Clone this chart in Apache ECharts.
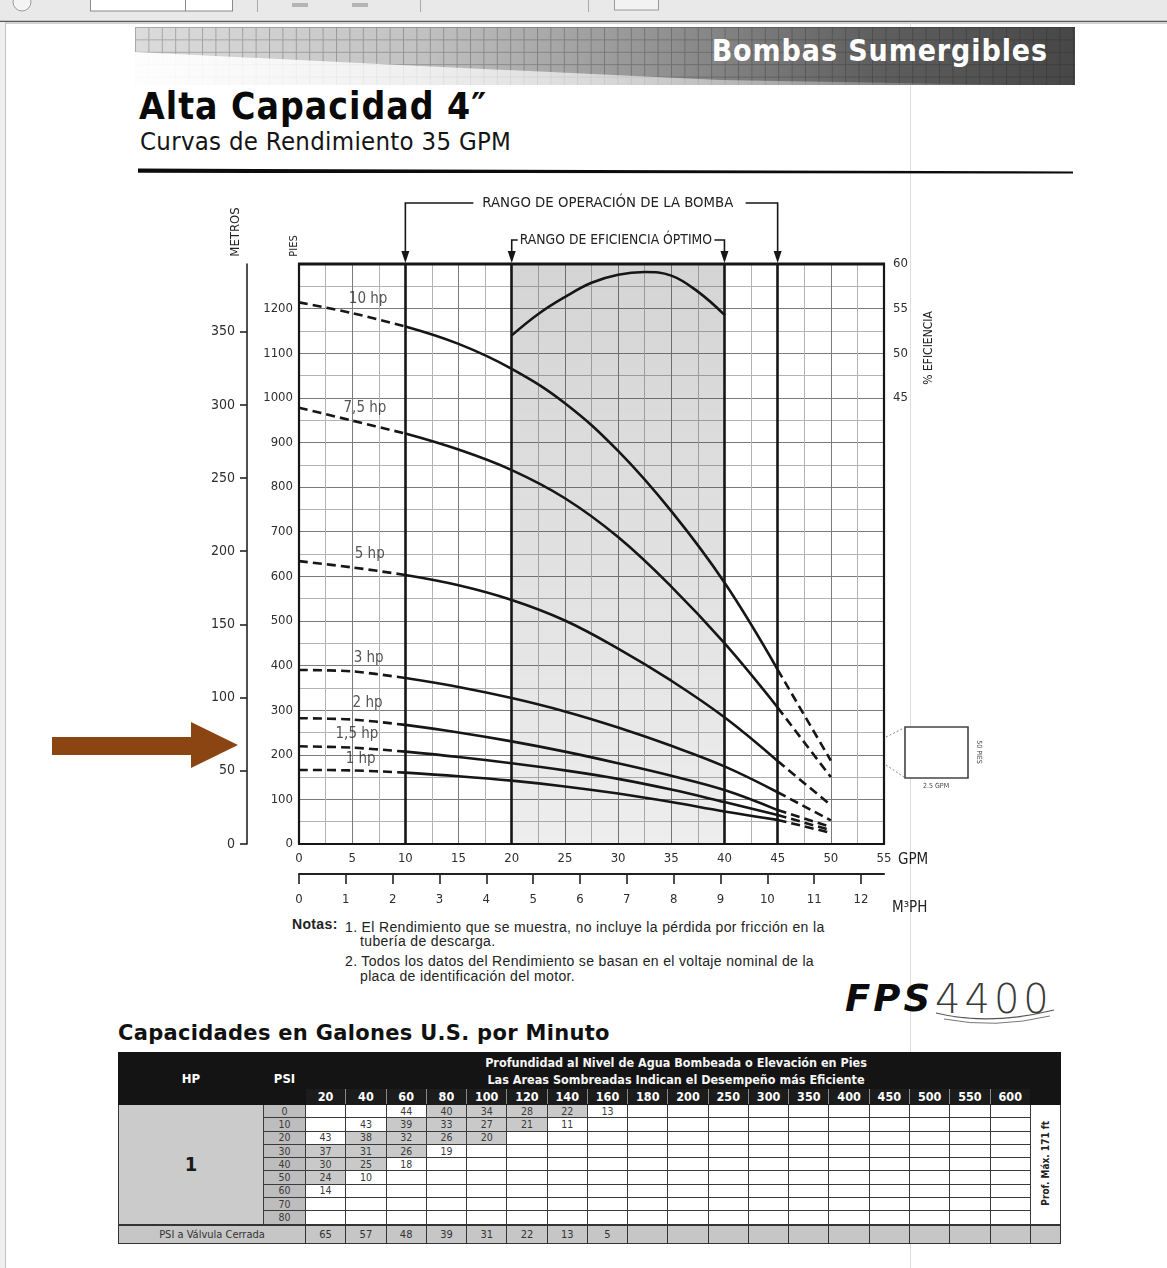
<!DOCTYPE html>
<html><head><meta charset="utf-8">
<script src="https://cdn.jsdelivr.net/npm/echarts@6/dist/echarts.min.js"></script>
<style>
html,body{margin:0;padding:0;background:#fff;}
#page{position:relative;width:1167px;height:1268px;overflow:hidden;background:#fff;font-family:'DejaVu Sans Condensed','Liberation Sans Narrow',sans-serif;color:#111;}
#deco{position:absolute;left:0;top:0;}
#chart{position:absolute;left:0;top:0;width:1167px;height:1268px;}
.t{position:absolute;white-space:nowrap;}
#banner{right:119px;top:35.6px;font-size:30px;line-height:30px;font-weight:bold;color:#fff;letter-spacing:0.9px;}
#title{left:139px;top:87.7px;font-size:37px;line-height:37px;font-weight:bold;color:#0a0a0a;letter-spacing:1px;}
#subtitle{left:140px;top:128.6px;font-size:25.5px;line-height:25.5px;color:#151515;letter-spacing:0.3px;}
.note{font-family:'Liberation Sans',Arial,sans-serif;font-size:14px;line-height:14px;color:#222;letter-spacing:0.35px;}
#ttitle{left:118px;top:1023.2px;font-family:'DejaVu Sans',sans-serif;font-size:21px;line-height:21px;font-weight:bold;letter-spacing:0.3px;color:#111;}
#fps{left:845px;top:979.7px;font-family:'DejaVu Sans',sans-serif;font-size:37px;line-height:37px;font-weight:bold;font-style:italic;letter-spacing:3px;color:#0c0c0c;}
#n4400{left:935px;top:979.2px;font-family:'DejaVu Sans',sans-serif;font-size:40px;line-height:40px;font-weight:200;letter-spacing:4px;color:#3a3a3a;}
#tbl{position:absolute;left:118px;top:1052px;border-collapse:collapse;table-layout:fixed;width:942px;font-family:'DejaVu Sans Condensed','Liberation Sans Narrow',sans-serif;}
#tbl th,#tbl td{padding:0;text-align:center;vertical-align:middle;overflow:hidden;white-space:nowrap;}
#tbl .r1 th{height:35px;}
#tbl .hd{background:#141414;color:#fff;font-weight:bold;font-size:13px;border:1px solid #141414;}
#tbl .dep{background:#141414;color:#f4f4f4;font-weight:bold;font-size:12.5px;line-height:17px;padding-left:16px;border:1px solid #141414;}
#tbl .r2 th{height:15px;background:#1c1c1c;color:#fff;font-weight:bold;font-size:12.5px;border-left:1.5px solid #8a8a8a;border-right:1.5px solid #8a8a8a;border-top:1px solid #1c1c1c;border-bottom:1px solid #1c1c1c;}
#tbl .dr td{height:12.3px;font-size:10.5px;line-height:11px;color:#3a3a3a;border:1px solid #3a3a3a;border-top:1.5px solid #333;background:#fff;}
#tbl .dr td.hpc{background:#cbcbcb;font-size:20px;font-weight:bold;color:#1a1a1a;}
#tbl .dr td.psi{background:#bdbdbd;}
#tbl .dr td.sh{background:#c9c9c9;}
#tbl .dr td.pm{background:#fff;}
#tbl .pm span{writing-mode:vertical-rl;transform:rotate(180deg);font-size:10px;font-weight:bold;color:#222;display:inline-block;}
#tbl .cr td{height:17px;background:#c6c6c6;font-size:11px;color:#333;border:1px solid #333;border-top:2px solid #333;}
</style></head>
<body><div id="page">
<svg id="deco" width="1167" height="1268" xmlns="http://www.w3.org/2000/svg">
<defs>
<linearGradient id="band" x1="0" x2="1" y1="0" y2="0">
<stop offset="0" stop-color="#dcdcdc"/><stop offset="0.3" stop-color="#c2c2c2"/><stop offset="0.55" stop-color="#949494"/><stop offset="0.78" stop-color="#606060"/><stop offset="1" stop-color="#474747"/>
</linearGradient>
<linearGradient id="fadeL" x1="0" x2="1" y1="0" y2="0">
<stop offset="0" stop-color="#fff" stop-opacity="0.95"/><stop offset="0.5" stop-color="#fff" stop-opacity="0.6"/><stop offset="1" stop-color="#fff" stop-opacity="0"/>
</linearGradient>
<pattern id="gridp" width="13.4" height="12.4" patternUnits="userSpaceOnUse" x="135" y="27">
<path d="M0.5 0 V12.4 M0 0.5 H13.4" stroke="rgba(30,30,30,0.28)" stroke-width="1" fill="none"/>
</pattern>
</defs>
<rect x="0" y="0" width="1167" height="21" fill="#e9e9e9"/>
<circle cx="22" cy="2" r="9" fill="#f4f4f4" stroke="#9a9a9a"/>
<rect x="90.5" y="-1" width="142" height="12" fill="#fff" stroke="#8a8a8a"/>
<line x1="185.5" y1="0" x2="185.5" y2="11" stroke="#8a8a8a"/>
<line x1="257.5" y1="0" x2="257.5" y2="12" stroke="#aaa"/>
<rect x="292" y="3" width="16" height="4" fill="#b5b5b5"/>
<rect x="352" y="3" width="16" height="4" fill="#b5b5b5"/>
<line x1="420.5" y1="0" x2="420.5" y2="12" stroke="#aaa"/>
<line x1="588.5" y1="0" x2="588.5" y2="12" stroke="#aaa"/>
<rect x="614.5" y="-1" width="44" height="11" fill="#f2f2f2" stroke="#9a9a9a"/>
<line x1="0" y1="21.5" x2="1167" y2="21.5" stroke="#5a5a5a" stroke-width="1.5"/>
<line x1="0" y1="23.5" x2="1167" y2="23.5" stroke="#cfcfcf" stroke-width="1"/>
<rect x="0" y="22" width="5" height="1246" fill="#efefef"/>
<line x1="5.5" y1="22" x2="5.5" y2="1268" stroke="#c4c4c4"/>
<line x1="910.5" y1="22" x2="910.5" y2="1268" stroke="#dedede"/>
<rect x="135" y="27" width="940" height="58" fill="url(#band)"/>
<rect x="135" y="27" width="940" height="58" fill="url(#gridp)"/>
<polygon points="135,52 420,66 720,80 1075,86 135,86" fill="url(#fadeL)"/>
<polygon points="138,168.6 1073,171.4 1073,173.6 138,172.8" fill="#0c0c0c"/>
<polygon points="52,737 191,737 191,722 238,745 191,768 191,755 52,755" fill="#8B4513"/>
<path d="M936 1013 Q990 1026 1054 1010" stroke="#555" stroke-width="1.2" fill="none"/>
<path d="M944 1019 Q995 1029 1050 1016" stroke="#777" stroke-width="1" fill="none"/>
</svg>
<div class="t" id="banner">Bombas Sumergibles</div>
<div class="t" id="title">Alta Capacidad 4″</div>
<div class="t" id="subtitle">Curvas de Rendimiento 35 GPM</div>
<div class="t note" style="left:292px;top:917.2px;font-weight:bold;">Notas:</div>
<div class="t note" style="left:345px;top:920.2px;">1. El Rendimiento que se muestra, no incluye la pérdida por fricción en la</div>
<div class="t note" style="left:360px;top:934.2px;">tubería de descarga.</div>
<div class="t note" style="left:345px;top:954.2px;">2. Todos los datos del Rendimiento se basan en el voltaje nominal de la</div>
<div class="t note" style="left:360px;top:969.2px;">placa de identificación del motor.</div>
<div class="t" id="fps">FPS</div>
<div class="t" id="n4400">4400</div>
<div class="t" id="ttitle">Capacidades en Galones U.S. por Minuto</div>
<table id="tbl"></table>
<div id="chart"></div>
</div>
<script>
// ---------- axis ticks ----------
const gpmTicks = [0, 5, 10, 15, 20, 25, 30, 35, 40, 45, 50, 55];
const m3phTicks = [0, 1, 2, 3, 4, 5, 6, 7, 8, 9, 10, 11, 12];
const piesTicks = [0, 100, 200, 300, 400, 500, 600, 700, 800, 900, 1000, 1100, 1200];
const metrosTicks = [0, 50, 100, 150, 200, 250, 300, 350];
const effTicks = [45, 50, 55, 60];
// operating range 10-45 GPM, optimum efficiency range 20-40 GPM
const rangeLines = [10, 20, 40, 45];

// ---------- head curves (GPM, feet) ----------
const hpNames = ['10 hp', '7,5 hp', '5 hp', '3 hp', '2 hp', '1,5 hp', '1 hp'];
const hp10Start = [[0, 1214], [5, 1190], [10, 1160]];
const hp10Run = [[10, 1160], [15, 1121], [20, 1065], [25, 988], [30, 881], [35, 746], [40, 586], [45, 391]];
const hp10End = [[45, 391], [50, 187]];
const hp75Start = [[0, 978], [5, 949], [10, 920]];
const hp75Run = [[10, 920], [15, 884], [20, 838], [25, 775], [30, 688], [35, 577], [40, 450], [45, 306]];
const hp75End = [[45, 306], [50, 150]];
const hp5Start = [[0, 634], [5, 620], [10, 603]];
const hp5Run = [[10, 603], [15, 580], [20, 547], [25, 501], [30, 438], [35, 366], [40, 284], [45, 186]];
const hp5End = [[45, 186], [50, 87]];
const hp3Start = [[0, 390], [5, 387], [10, 372]];
const hp3Run = [[10, 372], [15, 352], [20, 327], [25, 297], [30, 261], [35, 220], [40, 174], [45, 116]];
const hp3End = [[45, 116], [50, 53]];
const hp2Start = [[0, 282], [5, 279], [10, 267]];
const hp2Run = [[10, 267], [15, 250], [20, 230], [25, 207], [30, 181], [35, 153], [40, 121], [45, 76]];
const hp2End = [[45, 76], [50, 38]];
const hp15Start = [[0, 219], [5, 216], [10, 207]];
const hp15Run = [[10, 207], [15, 195], [20, 181], [25, 165], [30, 146], [35, 122], [40, 94], [45, 65]];
const hp15End = [[45, 65], [50, 31]];
const hp1Start = [[0, 166], [5, 165], [10, 160]];
const hp1Run = [[10, 160], [15, 152], [20, 142], [25, 129], [30, 113], [35, 94], [40, 73], [45, 54]];
const hp1End = [[45, 54], [50, 25]];

// ---------- efficiency curve (GPM, %) ----------
const effCurve = [[20, 52.0], [22.5, 54.4], [25, 56.3], [27.5, 57.9], [30, 58.8], [32.5, 59.1], [35, 58.7], [37.5, 56.9], [40, 54.3]];

// ---------- table ----------
const depthCols = [20, 40, 60, 80, 100, 120, 140, 160, 180, 200, 250, 300, 350, 400, 450, 500, 550, 600];
const psiRows = [0, 10, 20, 30, 40, 50, 60, 70, 80];
const gpm1hp = [
  [null, null, 44, 40, 34, 28, 22, 13],
  [null, 43, 39, 33, 27, 21, 11],
  [43, 38, 32, 26, 20],
  [37, 31, 26, 19],
  [30, 25, 18],
  [24, 10],
  [14],
  [],
  []
];
const closedValvePsi = [65, 57, 48, 39, 31, 22, 13, 5];

// ---------- unit constants ----------
const GPM_PER_M3H = 4.403;
const FT_TO_M = 0.3048;
const PIES_MAX = 1300;
const GPM_MAX = 55;

function buildTable() {
  const effLow = rangeLines[1], effHigh = rangeLines[2];
  let h = '<colgroup><col style="width:145px"><col style="width:42px">' +
    depthCols.map(() => '<col style="width:40.28px">').join('') + '<col style="width:30px"></colgroup>';
  h += '<tr class="r1"><th class="hd" rowspan="2">HP</th><th class="hd" rowspan="2">PSI</th>' +
    '<th class="dep" colspan="' + depthCols.length + '">Profundidad al Nivel de Agua Bombeada o Elevación en Pies<br>Las Areas Sombreadas Indican el Desempeño más Eficiente</th>' +
    '<th class="hd" rowspan="2"></th></tr>';
  h += '<tr class="r2">' + depthCols.map(c => '<th>' + c + '</th>').join('') + '</tr>';
  psiRows.forEach((p, ri) => {
    h += '<tr class="dr">';
    if (ri === 0) h += '<td class="hpc" rowspan="' + psiRows.length + '">1</td>';
    h += '<td class="psi">' + p + '</td>';
    depthCols.forEach((c, ci) => {
      const v = gpm1hp[ri][ci];
      const has = v !== undefined && v !== null;
      const sh = has && v >= effLow && v <= effHigh;
      h += '<td class="' + (sh ? 'sh' : '') + '">' + (has ? v : '') + '</td>';
    });
    if (ri === 0) h += '<td class="pm" rowspan="' + psiRows.length + '"><span>Prof. Máx. 171 ft</span></td>';
    h += '</tr>';
  });
  h += '<tr class="cr"><td colspan="2">PSI a Válvula Cerrada</td>' +
    depthCols.map((c, ci) => '<td>' + (closedValvePsi[ci] !== undefined ? closedValvePsi[ci] : '') + '</td>').join('') +
    '<td></td></tr>';
  document.getElementById('tbl').innerHTML = h;
}
buildTable();

const F = "'DejaVu Sans Condensed','Liberation Sans Narrow',sans-serif";
const INK = '#161616';
const chart = echarts.init(document.getElementById('chart'), null, { renderer: 'canvas' });

const starts = [hp10Start, hp75Start, hp5Start, hp3Start, hp2Start, hp15Start, hp1Start];
const runs = [hp10Run, hp75Run, hp5Run, hp3Run, hp2Run, hp15Run, hp1Run];
const ends = [hp10End, hp75End, hp5End, hp3End, hp2End, hp15End, hp1End];
// label anchors (GPM, ft) for the hp captions
const labelAnchors = [[6.5, 1222], [6.2, 977], [6.65, 650], [6.55, 416], [6.45, 315], [5.45, 246], [5.8, 190]];

function seg(name, data, dashed, sm) {
  return {
    name: name, type: 'line', xAxisIndex: 0, yAxisIndex: 0, data: data,
    smooth: sm, showSymbol: false, silent: true, z: 5, animation: false,
    lineStyle: { color: INK, width: 2.6, type: dashed ? [9, 5] : 'solid', cap: 'butt' }
  };
}
const series = [];
hpNames.forEach((n, i) => {
  series.push(seg(n + ' (extrapolado 0)', starts[i], true, 0.3));
  const s = seg(n, runs[i], false, 0.4);
  if (i === 0) {
    s.markLine = {
      silent: true, symbol: ['none', 'none'], label: { show: false }, animation: false,
      lineStyle: { color: INK, width: 2.6, type: 'solid' },
      data: rangeLines.map(v => ({ xAxis: v }))
    };
    s.markArea = {
      silent: true, animation: false,
      itemStyle: {
        color: new echarts.graphic.LinearGradient(0, 0, 0, 1, [
          { offset: 0, color: 'rgba(60,60,60,0.22)' },
          { offset: 1, color: 'rgba(60,60,60,0.09)' }
        ])
      },
      data: [[{ xAxis: rangeLines[1] }, { xAxis: rangeLines[2] }]]
    };
  }
  series.push(s);
  series.push(seg(n + ' (extrapolado 1)', ends[i], true, 0));
});
series.push({
  name: '% Eficiencia', type: 'line', xAxisIndex: 0, yAxisIndex: 2, data: effCurve,
  smooth: 0.4, showSymbol: false, silent: true, z: 5, animation: false,
  lineStyle: { color: INK, width: 2.6 }
});
series.push({
  name: 'hp', type: 'scatter', xAxisIndex: 0, yAxisIndex: 0, silent: true, z: 6, animation: false,
  symbolSize: 1, itemStyle: { color: 'rgba(0,0,0,0)' },
  data: labelAnchors.map((p, i) => [p[0], p[1], hpNames[i]]),
  label: { show: true, position: 'inside', formatter: p => p.data[2], fontSize: 15, color: '#2a2a2a', fontFamily: F }
});

const plain = v => String(v);
const lbl = (size) => ({ fontSize: size, color: '#2e2e2e', fontFamily: F, formatter: plain });
chart.setOption({
  animation: false,
  textStyle: { fontFamily: F },
  grid: [{ left: 299, top: 264, width: 585, height: 580, outerBoundsMode: 'none', containLabel: false }],
  xAxis: [
    {
      gridIndex: 0, type: 'value', min: 0, max: GPM_MAX, interval: 2.5,
      axisLine: { show: false }, axisTick: { show: false },
      axisLabel: Object.assign({ customValues: gpmTicks, margin: 8 }, lbl(13)),
      splitLine: { show: true, lineStyle: { color: ['#7a7a7a', '#b3b3b3'], width: 1 } }
    },
    {
      gridIndex: 0, type: 'value', position: 'bottom', offset: 30, min: 0, max: GPM_MAX / GPM_PER_M3H,
      axisLine: { show: true, onZero: false, lineStyle: { color: '#222', width: 2 } },
      axisTick: { show: true, customValues: m3phTicks, length: 10, lineStyle: { color: '#222', width: 1.6 } },
      axisLabel: Object.assign({ customValues: m3phTicks, margin: 19 }, lbl(13)),
      splitLine: { show: false }
    }
  ],
  yAxis: [
    {
      gridIndex: 0, type: 'value', min: 0, max: PIES_MAX, interval: 50, position: 'left',
      axisLine: { show: false }, axisTick: { show: false },
      axisLabel: Object.assign({ customValues: piesTicks, margin: 6 }, lbl(13)),
      splitLine: { show: true, lineStyle: { color: ['#7a7a7a', '#b3b3b3'], width: 1 } }
    },
    {
      gridIndex: 0, type: 'value', min: 0, max: PIES_MAX * FT_TO_M, position: 'left', offset: 52,
      axisLine: { show: true, onZero: false, lineStyle: { color: '#222', width: 1.6 } },
      axisTick: { show: true, customValues: metrosTicks, length: 7, lineStyle: { color: '#222', width: 1.6 } },
      axisLabel: Object.assign({ customValues: metrosTicks, margin: 12 }, lbl(14)),
      splitLine: { show: false }
    },
    {
      gridIndex: 0, type: 'value', min: -5, max: 60, position: 'right',
      axisLine: { show: false }, axisTick: { show: false },
      axisLabel: Object.assign({ customValues: effTicks, margin: 9 }, lbl(13)),
      splitLine: { show: false }
    }
  ],
  series: series
});

// ---------- annotations placed through the axes ----------
const X = v => chart.convertToPixel({ xAxisIndex: 0 }, v);
const Y = v => chart.convertToPixel({ yAxisIndex: 0 }, v);
const x0 = X(0), x55 = X(GPM_MAX), yT = Y(PIES_MAX), yB = Y(0);
const xa = rangeLines.map(X);
const g = [];
const line = (pts, w, extra) => Object.assign({ type: 'polyline', z: 100, silent: true, shape: { points: pts }, style: { stroke: INK, lineWidth: w || 1.6, fill: 'none' } }, extra || {});
const arrow = (x, y) => ({ type: 'polygon', z: 101, silent: true, shape: { points: [[x - 4, y - 12], [x + 4, y - 12], [x, y]] }, style: { fill: INK } });
const txt = (text, x, y, size, opts) => Object.assign({ type: 'text', z: 102, silent: true, x: x, y: y, style: { text: text, fontSize: size, fontFamily: F, fill: '#222', align: 'left', verticalAlign: 'middle' } }, opts || {});
const rtxt = (text, x, y, size, rot, fill) => ({ type: 'text', z: 102, silent: true, x: x, y: y, rotation: rot, style: { text: text, fontSize: size, fontFamily: F, fill: fill || '#222', align: 'center', verticalAlign: 'middle' } });
// plot frame
g.push({ type: 'rect', z: 100, silent: true, shape: { x: x0, y: yT, width: x55 - x0, height: yB - yT }, style: { fill: 'none', stroke: INK, lineWidth: 2.2 } });
g.push(line([[x0 - 1, yT], [x55 + 1, yT]], 3));
// operating range bracket
const yb1 = 203, yb2 = 240;
g.push(line([[xa[0], yT - 10], [xa[0], yb1], [xa[0] + 68, yb1]]));
g.push(line([[xa[3] - 32, yb1], [xa[3], yb1], [xa[3], yT - 10]]));
g.push(arrow(xa[0], yT - 1), arrow(xa[3], yT - 1));
g.push(txt('RANGO DE OPERACIÓN DE LA BOMBA', xa[0] + 77, yb1, 14.8));
// efficiency bracket
g.push(line([[xa[1], yT - 10], [xa[1], yb2], [xa[1] + 6, yb2]]));
g.push(line([[xa[2] - 10, yb2], [xa[2], yb2], [xa[2], yT - 10]]));
g.push(arrow(xa[1], yT - 1), arrow(xa[2], yT - 1));
g.push(txt('RANGO DE EFICIENCIA ÓPTIMO', xa[1] + 8, yb2, 13.8));
// axis names
g.push(rtxt('METROS', 236, 232, 13, Math.PI / 2));
g.push(rtxt('PIES', x0 - 5, 246, 11, Math.PI / 2));
g.push(rtxt('% EFICIENCIA', x55 + 45, 348, 12, Math.PI / 2));
g.push(txt('GPM', x55 + 14, yB + 16, 15));
g.push(txt('M³PH', x55 + 8, yB + 64, 15));
// inset scale box
g.push({ type: 'rect', z: 100, silent: true, shape: { x: 905, y: 727, width: 63, height: 51 }, style: { fill: '#fff', stroke: '#444', lineWidth: 1.6 } });
g.push(line([[886, 737], [904, 728]], 1, { style: { stroke: '#888', lineWidth: 1, lineDash: [2, 2], fill: 'none' } }));
g.push(line([[886, 765], [904, 777]], 1, { style: { stroke: '#888', lineWidth: 1, lineDash: [2, 2], fill: 'none' } }));
g.push(rtxt('2.5 GPM', 936, 786, 7, 0, '#444'));
g.push(rtxt('50 PIES', 979, 752, 7, -Math.PI / 2, '#444'));
chart.setOption({ graphic: g });
</script>
</body></html>
